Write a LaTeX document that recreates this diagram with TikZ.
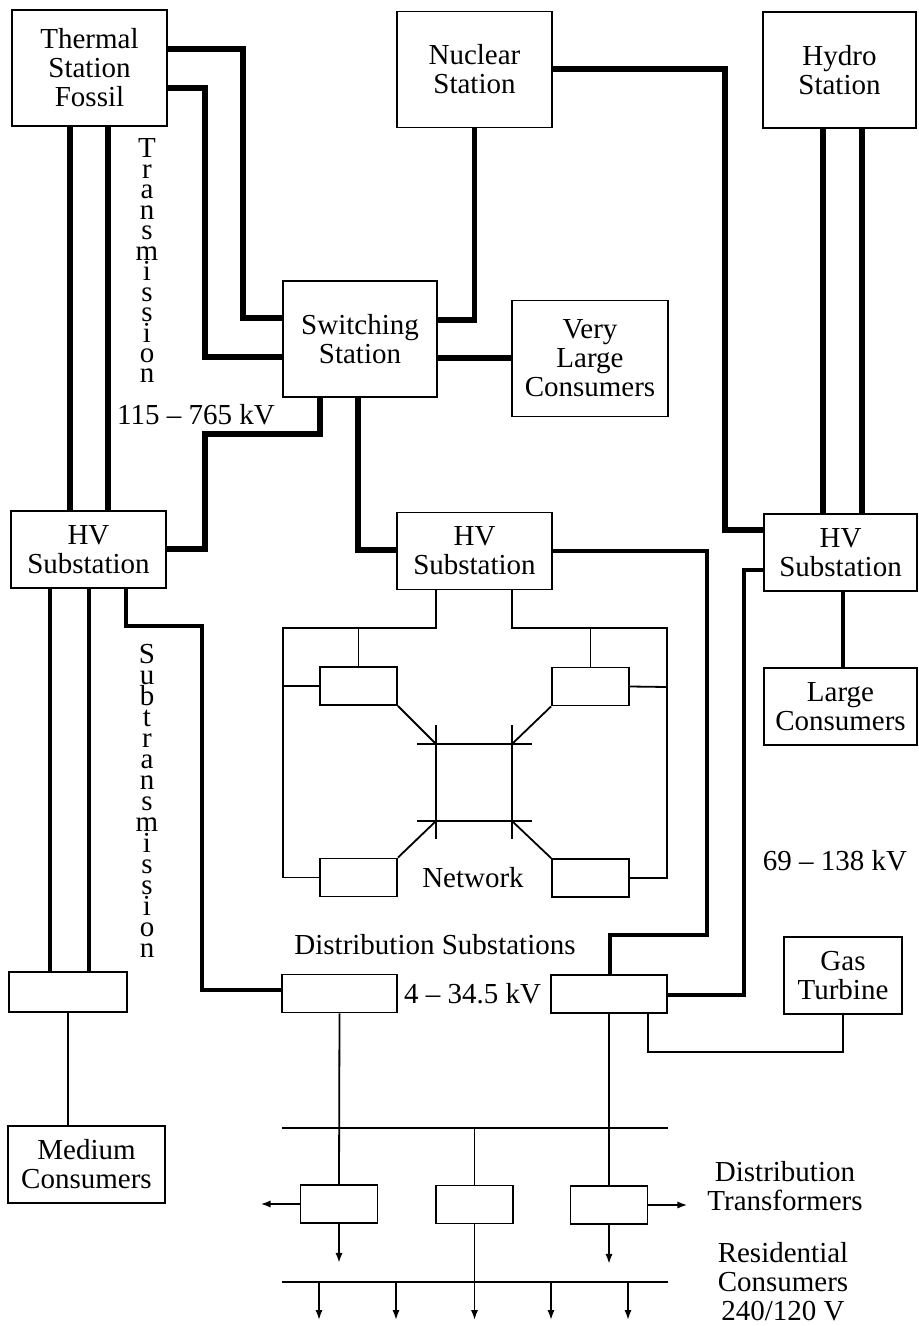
\documentclass[tikz,border=0pt]{standalone}
\usepackage{fontspec}
\setmainfont{Liberation Serif}
\usetikzlibrary{arrows.meta,calc}
\tikzset{
  box/.style={draw, line width=0.9pt, align=center, inner sep=0pt,
    minimum width=77.5pt, minimum height=58pt},
  hvbox/.style={box, minimum height=38.5pt},
  smallbox/.style={draw, line width=0.9pt, inner sep=0pt,
    minimum width=38.5pt, minimum height=19pt},
  trans/.style={line width=2.8pt},
  subtr/.style={line width=2.2pt},
  feeder/.style={line width=0.9pt},
  tip/.style={feeder, -{Latex[length=5pt,width=3.6pt]}},
  letter/.style={inner sep=0pt, anchor=base},
}
\tikzstyle{every node}=[font=\fontsize{14.5}{14.5}\selectfont]

\begin{document}
\begin{tikzpicture}[x=0.5pt,y=-0.5pt]
    \useasboundingbox (0,0) rectangle (919,1326);
    % stations and consumers
    \node[box] (thermal) at (89.5,68) {Thermal\\Station\\Fossil};
    \node[box] (nuclear) at (474.5,69.5) {Nuclear\\Station};
    \node[box, minimum width=76.5pt] (hydro) at (839.5,70) {Hydro\\Station};
    \node[box, minimum width=77pt] (switch) at (360,339) {Switching\\Station};
    \node[box, minimum width=78pt] (vlarge) at (590,358.5) {Very\\Large\\Consumers};
    \node[hvbox] (hvl) at (88.5,549.5) {HV\\Substation};
    \node[hvbox] (hvm) at (474.5,551) {HV\\Substation};
    \node[hvbox, minimum width=76.5pt] (hvr) at (840.5,552.5) {HV\\Substation};
    \node[hvbox, minimum width=76.5pt] (large) at (840.5,706.5) {Large\\Consumers};
    \node[hvbox, minimum width=78.5pt] (medium) at (86.5,1164.5) {Medium\\Consumers};
    \node[hvbox, minimum width=59pt] (gas) at (843,975.5) {Gas\\Turbine};
    \node[smallbox, minimum width=59pt, minimum height=20pt] (medpad) at (68,992) {};
    \node[smallbox, minimum width=57.5pt] (dsl) at (339.5,993.5) {};
    \node[smallbox, minimum width=58pt] (dsr) at (609,994) {};
    \node[smallbox] (ntl) at (358.5,686) {};
    \node[smallbox] (ntr) at (590.5,686.5) {};
    \node[smallbox] (nbl) at (358.5,877.5) {};
    \node[smallbox] (nbr) at (590.5,878) {};
    \node[smallbox] (dtl) at (339,1204) {};
    \node[smallbox] (dtm) at (474.5,1204.5) {};
    \node[smallbox] (dtr) at (609,1205) {};

    % labels
    \foreach \c [count=\i] in {T,r,a,n,s,m,i,s,s,i,o,n}
        \node[letter] (tr\i) at (147,158+20.45*\i-20.45) {\c};
    \foreach \c [count=\i] in {S,u,b,t,r,a,n,s,m,i,s,s,i,o,n}
        \node[letter] (sub\i) at (147,663+21*\i-21) {\c};
    \node (hvvolt) at (196,415) {115 – 765 kV};
    \node (netlabel) at (473,878) {Network};
    \node (dslabel) at (435,945) {Distribution Substations};
    \node (dsvolt) at (472.5,994) {4 – 34.5 kV};
    \node (subvolt) at (835,861) {69 – 138 kV};
    \node[align=center] (dtlabel) at (785,1186) {Distribution\\Transformers};
    \node[align=center] (reslabel) at (783,1282) {Residential\\Consumers\\240/120 V};

    % transmission
    \draw[trans] (thermal.east |- 0,49) -| (243,318) -- (switch.west |- 0,318);
    \draw[trans] (thermal.east |- 0,88) -| (205,357) -- (switch.west |- 0,357);
    \foreach \x in {70,108} \draw[trans] (thermal.south -| \x,0) -- (hvl.north -| \x,0);
    \draw[trans] (switch.south -| 320,0) |- (205,434) |- (hvl.east |- 0,549);
    \draw[trans] (switch.south -| 358,0) |- (hvm.west |- 0,550);
    \draw[trans] (nuclear.south) |- (switch.east |- 0,320);
    \draw[trans] (switch.east |- 0,358) -- (vlarge.west |- 0,358);
    \draw[trans] (nuclear.east |- 0,69) -| (725,530) -- (hvr.west |- 0,530);
    \foreach \x in {823,862} \draw[trans] (hydro.south -| \x,0) -- (hvr.north -| \x,0);

    % subtransmission
    \draw[subtr] (hvr.south -| 843,0) -- (large.north -| 843,0);
    \draw[subtr] (hvr.west |- 0,570) -| (744,995) -- (dsr.east |- 0,995);
    \draw[subtr] (hvm.east |- 0,551) -| (707,935) -| (dsr.north -| 610,0);
    \foreach \x in {50,89} \draw[subtr] (hvl.south -| \x,0) -- (medpad.north -| \x,0);
    \draw[subtr] (hvl.south -| 126,0) |- (202,626) |- (dsl.west |- 0,990);
    \draw[feeder] (medpad.south) -- (medpad.south |- medium.north);

    % network
    \draw[feeder] (hvm.south -| 436,0) |- (283,628) |- (nbl.west);
    \draw[feeder] (hvm.south -| 512,0) |- (667,628) |- (nbr.east);
    \draw[feeder] (ntl.north |- 0,628) -- (ntl.north);
    \draw[feeder] (ntr.north |- 0,628) -- (ntr.north);
    \draw[feeder] (283,686) -- (ntl.west);
    \draw[feeder] (667,687) -- (ntr.east);
    \coordinate (sq1) at (436,744);
    \coordinate (sq2) at (512,744);
    \coordinate (sq3) at (436,821);
    \coordinate (sq4) at (512,821);
    \draw[feeder] (417,744) -- (532,744) (417,821) -- (532,821)
        (436,725) -- (436,839) (512,725) -- (512,839);
    \draw[feeder] (ntl.south east) -- (sq1) (ntr.south west) -- (sq2)
        (nbl.north east) -- (sq3) (nbr.north west) -- (sq4);

    % distribution
    \draw[feeder] (dsl.south) -- (dtl.north);
    \draw[feeder] (dsr.south) -- (dtr.north);
    \draw[feeder] (dsr.south -| 648,0) |- (gas.south |- 0,1052) -- (gas.south);
    \draw[feeder] (282,1128) -- (668,1128);
    \draw[feeder] (dtm.north |- 0,1128) -- (dtm.north);
    \draw[feeder] (282,1282) -- (668,1282);
    \draw[tip] (dtm.south) -- (dtm.south |- 0,1320);
    \draw[tip] (dtl.south) -- ++(0,39);
    \draw[tip] (dtr.south) -- ++(0,39);
    \draw[tip] (dtl.west) -- ++(-39,0);
    \draw[tip] (dtr.east) -- ++(39,0);
    \foreach \x in {319,396,551,628} \draw[tip] (\x,1282) -- (\x,1320);
\end{tikzpicture}
\end{document}
